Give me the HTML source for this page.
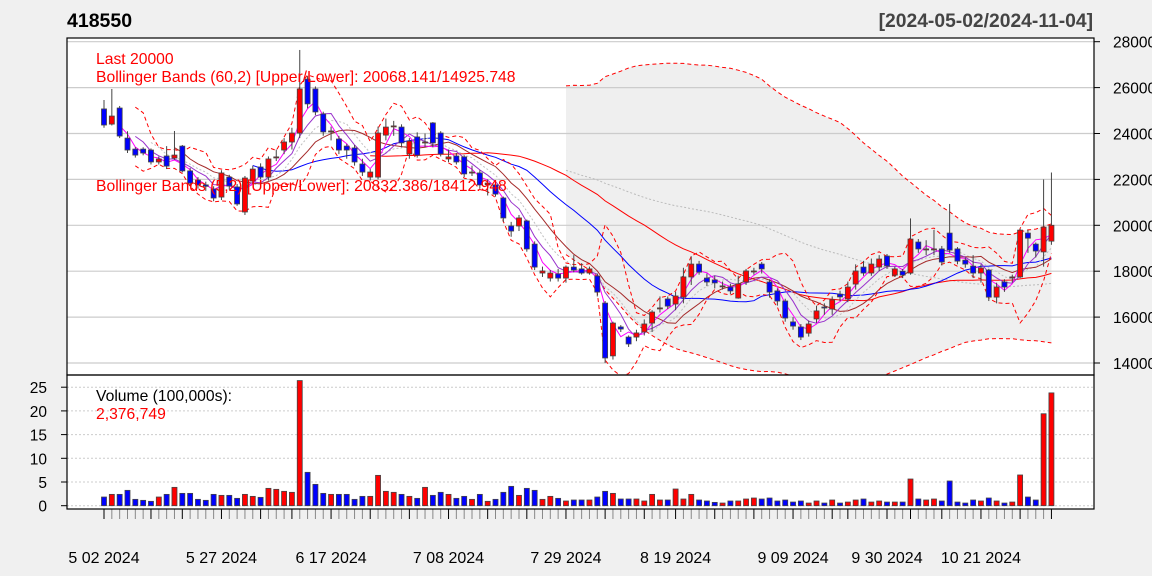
<!DOCTYPE html>
<html><head><meta charset="utf-8">
<style>
html,body{margin:0;padding:0;background:#f0f0f0;}
svg{display:block;font-family:"Liberation Sans",sans-serif;}
</style></head>
<body>
<svg id="chart" width="1152" height="576" viewBox="0 0 1152 576" xmlns="http://www.w3.org/2000/svg">
<defs>
<clipPath id="mainClip"><rect x="67" y="38" width="1027" height="337"/></clipPath>
</defs>
<rect x="0" y="0" width="1152" height="576" fill="#f0f0f0"/>
<text x="67" y="27" font-size="19.5" font-weight="bold" fill="#000">418550</text>
<text x="1093" y="27" font-size="19.3" font-weight="bold" fill="#444" text-anchor="end">[2024-05-02/2024-11-04]</text>
<rect x="67" y="38" width="1027" height="337" fill="#fff"/>
<rect x="67" y="375" width="1027" height="134" fill="#fff"/>
<g id="shade" clip-path="url(#mainClip)"></g>
<g id="grid"></g>
<g id="lines" clip-path="url(#mainClip)"></g>
<g id="candles" clip-path="url(#mainClip)"></g>
<g id="vols"></g>
<g id="axes"></g>
<rect x="67" y="38" width="1027" height="337" fill="none" stroke="#000" stroke-width="1.2"/>
<rect x="67" y="375" width="1027" height="134" fill="none" stroke="#000" stroke-width="1.2"/>
<text x="96" y="64" font-size="15.7" fill="#f00">Last 20000</text>
<text x="96" y="82" font-size="15.7" fill="#f00">Bollinger Bands (60,2) [Upper/Lower]: 20068.141/14925.748</text>
<text x="96" y="191" font-size="15.7" fill="#f00">Bollinger Bands (5,2) [Upper/Lower]: 20832.386/18412.948</text>
<text x="96" y="401" font-size="15.7" fill="#000">Volume (100,000s):</text>
<text x="96" y="419" font-size="15.7" fill="#f00">2,376,749</text>
</svg>
<script>
const opens=[25070,24410,25110,23800,23320,23320,23280,22760,23020,22930,23450,22370,21970,21760,21580,21230,22100,21670,20580,21930,22540,22100,22980,23280,23630,24020,26370,25940,24850,24070,23760,23450,23370,22670,22100,22100,23930,24330,24280,23110,23850,23630,24460,24020,22890,23020,22980,22320,22280,21760,21760,21190,19970,19970,20190,19180,17920,17700,17880,17700,18180,18100,17920,17790,16610,14310,15570,15130,15130,15350,15740,16400,16790,16570,16870,17750,18310,17700,17620,17360,17310,16830,17530,18010,18310,17530,17140,16700,15790,15570,15300,15920,16440,16350,17000,16790,17440,18180,17920,18180,18660,17830,18000,17920,19270,18970,18970,18970,19660,18970,18480,18220,17920,18050,16870,17530,17750,17750,19660,19180,18840,19310];
const closes=[24370,24760,23890,23280,23060,23150,22760,22890,22580,23060,22370,21840,21760,21700,21190,22280,21710,20930,22060,22450,22100,22890,22980,23630,24020,25940,25290,24940,24070,24110,23280,23280,22760,22320,22320,24020,24280,24330,23590,23670,23060,23630,23590,23110,22980,22760,22240,22320,21760,21840,21360,20320,19750,20320,18970,18180,18010,17920,17700,18180,18050,17920,18100,17090,14220,15740,15480,14830,15310,15700,16220,16400,16480,16920,17750,18310,17960,17530,17490,17360,17140,17450,18010,18010,18100,17090,16700,15960,15610,15130,15700,16270,16400,16750,16880,17310,18010,17920,18310,18530,18230,18100,17830,19400,18970,18970,18970,18400,18920,18440,18310,17920,18140,16870,17310,17310,17750,19790,19440,18880,19920,20000];
const highs=[25460,25940,25200,24100,23400,23400,23350,23000,23450,24110,23500,22500,22100,21900,21700,22400,22200,21800,22150,22600,22700,23000,23300,23800,24250,27640,26500,26050,24950,24300,23900,23550,23500,22900,22450,24300,24650,24550,24400,23800,24050,24000,24500,24100,23300,23150,23050,22600,22400,22000,21850,21250,20150,20450,20250,19300,18200,18050,18100,18250,18700,18350,18200,17900,16700,15800,15650,15200,15450,15900,16300,16900,16900,17100,18150,18650,18450,17900,17800,17550,17450,17800,18100,18150,18400,17650,17250,16800,16000,15700,15850,16500,16600,16900,17150,17550,18300,18450,18550,18700,18750,18200,18100,20300,19400,19350,19800,19100,20930,19050,18600,18700,18300,18100,17500,17650,17850,19850,19800,19250,22000,22300];
const lows=[24250,24350,23800,23150,22950,23050,22650,22650,22450,22850,22300,21700,21600,21500,21050,21100,21550,20850,20450,21800,22000,21950,22800,23100,23300,23800,25100,24800,23900,23700,23100,22900,22600,22150,21950,22000,23700,23900,23400,22900,22950,23400,23400,23000,22750,22650,22100,22150,21600,21300,21250,20150,19500,19750,18850,18050,17750,17550,17550,17500,17950,17850,17850,16900,14000,14150,15350,14700,14950,15200,15350,16200,16350,16300,16600,17400,17850,17350,17250,17200,17000,16800,17400,17850,17900,16850,16500,15800,15450,15000,15150,15750,16100,16100,16700,16650,17200,17800,17800,18000,18100,17750,17700,17850,18800,18700,18700,18250,18800,18300,18150,17700,17500,16700,16600,17100,17500,17700,18800,18600,18200,19150];
const volumes=[1.83,2.39,2.39,3.24,1.34,1.13,0.92,1.83,2.39,3.87,2.6,2.6,1.34,1.13,2.39,2.18,2.18,1.55,2.39,1.97,1.76,3.66,3.45,3.03,2.82,26.4,7.04,4.5,2.6,2.39,2.39,2.39,1.34,1.97,1.97,6.4,3.03,2.82,2.39,1.97,1.55,3.87,2.18,2.82,2.39,1.55,1.97,1.34,2.39,0.92,1.34,2.82,4.08,2.18,3.66,3.24,1.34,1.97,1.55,0.99,1.2,1.2,1.2,1.83,3.03,2.6,1.41,1.41,1.41,0.99,2.39,1.2,1.2,3.52,1.41,2.39,1.2,0.99,0.7,0.56,0.99,0.99,1.41,1.62,1.41,1.62,0.99,1.2,0.77,0.99,0.56,0.99,0.56,1.2,0.56,0.77,1.2,1.41,0.77,0.99,0.77,0.77,0.77,5.63,1.41,1.2,1.41,0.99,5.21,0.77,0.56,1.2,0.99,1.62,0.99,0.56,0.77,6.48,1.83,1.2,19.4,23.8];
const priceTicks=[14000,16000,18000,20000,22000,24000,26000,28000];
const volTicks=[0,5,10,15,20,25];
const dateLabels=["5 02 2024","5 27 2024","6 17 2024","7 08 2024","7 29 2024","8 19 2024","9 09 2024","9 30 2024","10 21 2024"];
const dateLabelIdx=[0,15,29,44,59,73,88,100,112];
const majorTickIdx=[0,6,10,15,20,24,29,34,39,44,49,54,59,64,69,73,78,83,88,93,95,100,103,107,112,117,121];

const NS="http://www.w3.org/2000/svg";
const X0=104, DX=7.83;
function xs(i){return X0+i*DX;}
function yp(p){return 363-(p-14000)*0.02295;}
function yv(v){return 505.7-v*4.74;}
function mk(tag,attrs,parent){const e=document.createElementNS(NS,tag);for(const k in attrs)e.setAttribute(k,attrs[k]);parent.appendChild(e);return e;}
const gShade=document.getElementById('shade'),gGrid=document.getElementById('grid'),gLines=document.getElementById('lines'),gC=document.getElementById('candles'),gV=document.getElementById('vols'),gA=document.getElementById('axes');

function sma(n,i){let s=0;for(let k=i-n+1;k<=i;k++)s+=closes[k];return s/n;}
function sd(n,i){const m=sma(n,i);let s=0;for(let k=i-n+1;k<=i;k++)s+=(closes[k]-m)**2;return Math.sqrt(s/n);}
function series(fn,start){const pts=[];for(let i=start;i<closes.length;i++)pts.push([xs(i),yp(fn(i))]);return pts;}
function pathOf(pts){return pts.map((p,j)=>(j?'L':'M')+p[0].toFixed(1)+','+p[1].toFixed(1)).join(' ');}

const up60=series(i=>sma(60,i)+2*sd(60,i),59), lo60=series(i=>sma(60,i)-2*sd(60,i),59);
const shade=mk('path',{d:pathOf(up60)+' '+lo60.slice().reverse().map(p=>'L'+p[0].toFixed(1)+','+p[1].toFixed(1)).join(' ')+' Z',fill:'#efefef'},gShade);



priceTicks.forEach(t=>{
  const l=mk('line',{x1:67,x2:1094,y1:yp(t),y2:yp(t),stroke:'#cccccc','stroke-width':1.2},gGrid);
  
  
  const tk=mk('line',{x1:1094,x2:1100,y1:yp(t),y2:yp(t),stroke:'#000'},gA);
  
  
  const tx=mk('text',{x:1113,y:yp(t)+6,'font-size':15.5,fill:'#000'},gA);
  tx.textContent=t;
  
  
});
volTicks.forEach(t=>{
  const l=mk('line',{x1:67,x2:1094,y1:yv(t),y2:yv(t),stroke:'#cccccc','stroke-dasharray':'2,2'},gGrid);
  
  
  const tk=mk('line',{x1:61,x2:67,y1:yv(t),y2:yv(t),stroke:'#000'},gA);
  
  
  const tx=mk('text',{x:47,y:yv(t)+6,'font-size':15.5,fill:'#000','text-anchor':'end'},gA);
  tx.textContent=t;
  
  
});

function addLine(pts,color,w,dash,name){
  const a={d:pathOf(pts),fill:'none',stroke:color,'stroke-width':w};
  if(dash)a['stroke-dasharray']=dash;
  const p=mk('path',a,gLines);
  
  
}
addLine(up60,'#f00',1,'4,3','bb60-upper');
addLine(lo60,'#f00',1,'4,3','bb60-lower');
addLine(series(i=>sma(60,i),59),'#bbbbbb',1,'2,2','bb60-middle');
addLine(series(i=>sma(35,i),34),'#f00',1,null,'ma35-line');
addLine(series(i=>sma(20,i),19),'#0000ff',1,null,'ma20-line');
addLine(series(i=>sma(7,i),6),'#c0c0c0',1,'2,2','ma7-line');
addLine(series(i=>sma(10,i),9),'#a52a2a',1,null,'ma10-line');
addLine(series(i=>sma(5,i),4),'#9932cc',1,null,'ma5-line');
addLine(series(i=>sma(3,i),2),'#ff00ff',1,null,'ma3-line');
addLine(series(i=>sma(5,i)+2*sd(5,i),4),'#f00',1,'4,3','bb5-upper');
addLine(series(i=>sma(5,i)-2*sd(5,i),4),'#f00',1,'4,3','bb5-lower');

closes.forEach((c,i)=>{
  const o=opens[i],x=xs(i),up=c>=o;
  const w=mk('line',{x1:x,x2:x,y1:yp(highs[i]),y2:yp(lows[i]),stroke:'#444'},gC);
  
  
  const top=yp(Math.max(o,c)),bot=yp(Math.min(o,c));
  const b=mk('rect',{x:x-2.5,y:top,width:5,height:Math.max(bot-top,1),fill:up?'#f00':'#00f',stroke:'#444','stroke-width':0.8},gC);
  
  
});
volumes.forEach((v,i)=>{
  const x=xs(i),up=closes[i]>=opens[i];
  const b=mk('rect',{x:x-2.5,y:yv(v),width:5,height:yv(0)-yv(v),fill:up?'#f00':'#00f',stroke:'#444','stroke-width':0.8},gV);
  
  
});
closes.forEach((c,i)=>{
  const major=majorTickIdx.includes(i);
  const t=mk('line',{x1:xs(i),x2:xs(i),y1:509,y2:519,stroke:major?'#000':'#888'},gA);
  
  
});
dateLabels.forEach((s,k)=>{
  const t=mk('text',{x:xs(dateLabelIdx[k]),y:563,'font-size':16,fill:'#000','text-anchor':'middle'},gA);
  t.textContent=s;
  
  
});
</script>
</body></html>
